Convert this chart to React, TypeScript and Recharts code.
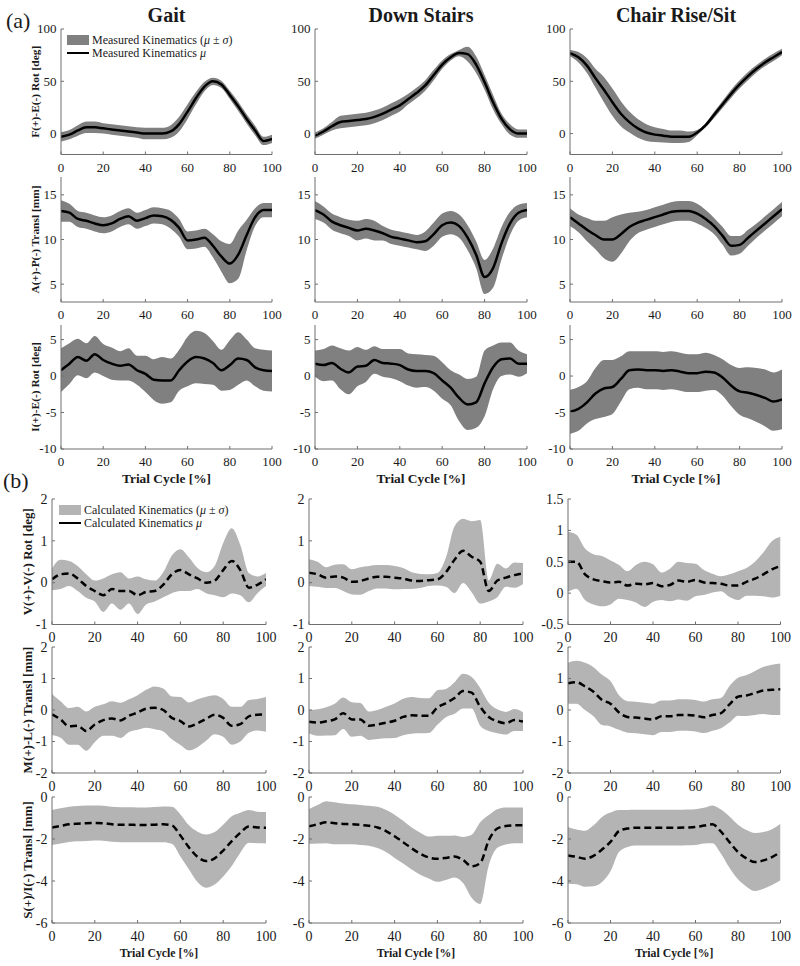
import React from 'react';
import { ComposedChart, Area, Line, XAxis, YAxis, Legend } from 'recharts';

const FONT = '"Liberation Serif", "Times New Roman", serif';
const AXIS = '#6f6f6f';
const INK = '#1a1a1a';
const MEASURED = '#808080';
const CALCULATED = '#b4b4b4';

// trial cycle sample points [%]
const cycle = [0, 4, 8, 12, 16, 20, 24, 28, 32, 36, 40, 44, 48, 52, 56, 60, 64, 68, 72, 76, 80, 84, 88, 92, 96, 100];
const xTicks = [0, 20, 40, 60, 80, 100];
const activities = ['Gait', 'Down Stairs', 'Chair Rise/Sit'];

// (a) measured kinematics, mean and sd
const gaitFeMean = [-3, -1, 3, 6, 6, 5, 4, 3, 2, 1, 0, 0, 0, 2, 9, 21, 34, 45, 50, 47, 37, 26, 14, 3, -7, -5];
const gaitFeSd = [4.5, 4.5, 5, 5.5, 5.5, 5, 5, 5, 5, 5, 5.5, 5.5, 5.5, 6, 7, 7, 6, 4.5, 3.5, 3.5, 4, 4.5, 4.5, 4.5, 4, 4];
const stairsFeMean = [-2, 2, 7, 11, 12, 13, 14, 16, 19, 23, 27, 33, 39, 46, 56, 66, 73, 77, 76, 66, 49, 30, 14, 4, 0, 0];
const stairsFeSd = [3, 3, 4, 6, 6, 6, 6, 6, 6, 6, 6, 5, 5, 5, 5, 4, 3, 3, 7, 8, 7, 7, 5, 5, 4, 4];
const chairFeMean = [77, 73, 65, 53, 42, 30, 19, 11, 5, 1, -1, -2, -3, -3, -3, 1, 8, 18, 28, 38, 47, 55, 62, 68, 73, 78];
const chairFeSd = [3, 5, 7, 9, 12, 13, 12, 10, 9, 8, 7, 6.5, 6, 6, 5, 2.5, 2, 3, 3.5, 4, 4, 4, 3.5, 3.5, 3.5, 3];

const gaitApMean = [13.2, 13.0, 12.3, 12.1, 11.8, 11.6, 11.8, 12.3, 12.6, 12.1, 12.4, 12.7, 12.6, 12.2, 11.3, 9.9, 10.0, 10.2, 9.3, 8.1, 7.3, 8.3, 10.5, 12.5, 13.3, 13.3];
const gaitApSd = [1.2, 1.0, 0.9, 0.9, 0.9, 0.9, 0.9, 0.9, 0.9, 0.9, 0.9, 0.9, 0.9, 1.0, 1.0, 1.0, 1.0, 1.0, 1.3, 1.7, 2.2, 2.7, 1.7, 1.0, 0.8, 0.8];
const stairsApMean = [13.3, 12.8, 12.0, 11.6, 11.3, 11.0, 11.2, 11.0, 10.7, 10.3, 10.1, 9.9, 9.7, 9.8, 10.6, 11.6, 11.9, 11.5, 10.2, 8.3, 5.8, 6.8, 9.6, 11.8, 13.0, 13.3];
const stairsApSd = [1.0, 0.9, 0.9, 0.9, 0.9, 1.1, 1.1, 1.1, 0.8, 0.8, 0.8, 0.8, 0.8, 1.1, 1.3, 1.3, 1.3, 1.3, 1.4, 1.5, 1.9, 2.2, 1.8, 1.3, 0.9, 0.8];
const chairApMean = [12.5, 11.8, 11.1, 10.5, 10.0, 10.0, 10.6, 11.4, 11.9, 12.2, 12.5, 12.8, 13.1, 13.2, 13.2, 12.9, 12.3, 11.5, 10.4, 9.3, 9.4, 10.2, 11.0, 11.8, 12.6, 13.4];
const chairApSd = [1.0, 1.0, 1.3, 1.6, 2.1, 2.5, 2.2, 1.6, 1.2, 1.1, 1.1, 1.1, 1.1, 1.1, 1.1, 1.1, 1.0, 0.9, 1.0, 1.1, 1.0, 0.9, 0.8, 0.8, 0.8, 0.8];

const gaitIeMean = [0.8, 1.7, 2.6, 2.1, 3.0, 2.2, 1.7, 1.4, 1.6, 0.8, 0.3, -0.5, -0.6, -0.6, 0.8, 2.0, 2.6, 2.4, 1.8, 0.8, 1.5, 2.4, 2.2, 1.2, 0.8, 0.7];
const gaitIeSd = [3.0, 2.8, 2.5, 2.4, 2.5, 2.2, 2.2, 2.0, 2.2, 2.0, 2.5, 2.8, 3.2, 3.0, 2.8, 3.4, 3.6, 3.5, 3.0, 2.8, 3.4, 3.6, 2.8, 2.6, 2.8, 2.8];
const stairsIeMean = [1.7, 1.5, 1.8, 1.0, 0.5, 1.3, 1.4, 2.2, 1.8, 1.7, 1.5, 0.9, 0.7, 0.7, 0.4, -0.6, -1.6, -3.0, -3.9, -3.6, -1.0, 1.2, 2.3, 2.4, 1.7, 1.7];
const stairsIeSd = [1.8, 2.2, 2.4, 2.8, 3.0, 2.7, 2.2, 1.9, 1.9, 2.0, 2.2, 2.2, 2.3, 2.2, 2.4, 2.5, 2.4, 3.2, 3.5, 3.5, 4.5, 3.0, 2.3, 2.2, 1.8, 1.3];
const chairIeMean = [-4.9, -4.5, -3.6, -2.4, -1.7, -1.5, -0.4, 0.8, 0.9, 0.8, 0.8, 0.7, 0.8, 0.6, 0.4, 0.4, 0.6, 0.5, -0.2, -1.3, -2.1, -2.3, -2.6, -3.0, -3.5, -3.2];
const chairIeSd = [3.0, 3.0, 2.9, 3.5, 3.9, 3.7, 3.1, 2.6, 2.5, 2.6, 2.6, 2.6, 2.6, 2.6, 2.6, 2.6, 2.6, 2.4, 2.5, 2.8, 3.2, 3.5, 3.7, 3.9, 4.0, 4.1];

// (b) calculated kinematics, mean and sd
const gaitVvMean = [0.08, 0.2, 0.22, 0.1, -0.08, -0.2, -0.3, -0.15, -0.2, -0.2, -0.3, -0.22, -0.2, -0.05, 0.2, 0.3, 0.2, 0.1, 0.0, 0.05, 0.3, 0.52, 0.3, -0.12, -0.05, 0.08];
const gaitVvSd = [0.26, 0.35, 0.3, 0.3, 0.28, 0.25, 0.4, 0.35, 0.45, 0.3, 0.45, 0.3, 0.25, 0.3, 0.45, 0.5, 0.4, 0.25, 0.25, 0.35, 0.65, 0.78, 0.6, 0.35, 0.2, 0.16];
const stairsVvMean = [0.24, 0.2, 0.12, 0.15, 0.12, 0.02, 0.04, 0.1, 0.14, 0.14, 0.12, 0.1, 0.05, 0.04, 0.06, 0.08, 0.25, 0.55, 0.76, 0.62, 0.5, -0.2, 0.05, 0.12, 0.18, 0.22];
const stairsVvSd = [0.32, 0.3, 0.25, 0.28, 0.32, 0.3, 0.33, 0.3, 0.28, 0.28, 0.28, 0.25, 0.2, 0.17, 0.14, 0.15, 0.35, 0.8, 0.77, 0.85, 1.0, 0.25, 0.4, 0.22, 0.3, 0.25];
const chairVvMean = [0.5, 0.5, 0.3, 0.22, 0.19, 0.17, 0.18, 0.12, 0.15, 0.14, 0.16, 0.11, 0.13, 0.2, 0.18, 0.21, 0.17, 0.16, 0.15, 0.12, 0.12, 0.18, 0.23, 0.3, 0.38, 0.43];
const chairVvSd = [0.48, 0.43, 0.41, 0.4, 0.4, 0.35, 0.27, 0.23, 0.3, 0.36, 0.3, 0.22, 0.26, 0.3, 0.3, 0.26, 0.2, 0.15, 0.12, 0.18, 0.23, 0.22, 0.27, 0.35, 0.45, 0.47];

const gaitMlMean = [-0.14, -0.3, -0.52, -0.5, -0.67, -0.46, -0.32, -0.27, -0.33, -0.18, -0.08, 0.04, 0.07, 0.0, -0.25, -0.35, -0.52, -0.42, -0.28, -0.15, -0.25, -0.5, -0.45, -0.2, -0.15, -0.14];
const gaitMlSd = [0.65, 0.58, 0.58, 0.6, 0.62, 0.56, 0.5, 0.55, 0.56, 0.52, 0.55, 0.6, 0.68, 0.68, 0.68, 0.76, 0.76, 0.76, 0.7, 0.62, 0.6, 0.6, 0.55, 0.52, 0.5, 0.55];
const stairsMlMean = [-0.37, -0.4, -0.36, -0.3, -0.1, -0.3, -0.3, -0.5, -0.46, -0.4, -0.34, -0.22, -0.17, -0.18, -0.18, 0.08, 0.22, 0.38, 0.6, 0.55, 0.1, -0.22, -0.36, -0.42, -0.32, -0.37];
const stairsMlSd = [0.37, 0.42, 0.45, 0.5, 0.5, 0.55, 0.52, 0.45, 0.46, 0.5, 0.55, 0.58, 0.58, 0.56, 0.55, 0.55, 0.45, 0.5, 0.55, 0.5, 0.6, 0.45, 0.38, 0.36, 0.35, 0.3];
const chairMlMean = [0.85, 0.88, 0.75, 0.58, 0.32, 0.2, -0.08, -0.22, -0.24, -0.27, -0.3, -0.2, -0.2, -0.16, -0.16, -0.18, -0.23, -0.16, -0.1, 0.18, 0.42, 0.46, 0.54, 0.62, 0.64, 0.66];
const chairMlSd = [0.65, 0.68, 0.75, 0.78, 0.8, 0.72, 0.55, 0.5, 0.5, 0.5, 0.5, 0.5, 0.5, 0.5, 0.5, 0.5, 0.5, 0.5, 0.48, 0.58, 0.6, 0.65, 0.7, 0.75, 0.8, 0.82];

const gaitSiMean = [-1.45, -1.38, -1.3, -1.27, -1.25, -1.24, -1.25, -1.3, -1.32, -1.32, -1.33, -1.33, -1.32, -1.3, -1.35, -1.83, -2.4, -2.85, -3.05, -2.92, -2.55, -2.1, -1.7, -1.4, -1.45, -1.46];
const gaitSiSd = [0.83, 0.84, 0.84, 0.84, 0.84, 0.83, 0.83, 0.83, 0.83, 0.83, 0.83, 0.83, 0.84, 0.85, 0.88, 1.0, 1.05, 1.2, 1.27, 1.25, 1.23, 1.18, 0.95, 0.78, 0.75, 0.75];
const stairsSiMean = [-1.4, -1.3, -1.2, -1.25, -1.28, -1.3, -1.33, -1.37, -1.45, -1.62, -1.87, -2.15, -2.45, -2.7, -2.88, -2.94, -2.9, -2.83, -3.0, -3.3, -3.15, -2.06, -1.5, -1.38, -1.35, -1.35];
const stairsSiSd = [0.83, 0.92, 1.0, 1.0, 0.97, 0.95, 0.95, 0.95, 0.98, 1.0, 1.03, 1.02, 1.0, 1.0, 1.0, 1.1, 1.05, 1.0, 1.1, 1.5, 1.95, 1.2, 0.92, 0.88, 0.85, 0.85];
const chairSiMean = [-2.78, -2.85, -2.94, -2.8, -2.5, -2.14, -1.62, -1.5, -1.46, -1.46, -1.46, -1.46, -1.46, -1.46, -1.45, -1.43, -1.36, -1.3, -1.65, -2.15, -2.62, -2.92, -3.1, -3.02, -2.86, -2.62];
const chairSiSd = [1.35, 1.3, 1.33, 1.45, 1.55, 1.4, 1.0, 0.88, 0.85, 0.85, 0.85, 0.85, 0.85, 0.85, 0.85, 0.85, 0.85, 0.9, 1.05, 1.22, 1.3, 1.35, 1.38, 1.35, 1.33, 1.35];

const buildRows = (mean: number[], sd: number[]) =>
  cycle.map((x, i) => ({ x, mean: mean[i], band: [mean[i] - sd[i], mean[i] + sd[i]] }));

// layout of the two panel groups (page pixels)
const groups = [
  {
    tag: '(a)', tagX: 6, tagY: 28, label: 'Measured Kinematics', band: MEASURED, dashed: false,
    tickFont: 13, yFont: 11.4, xFont: 13.4, yTitleX: 35, legendAt: [67, 33.5],
    lefts: [61, 315, 570], widths: [211, 212, 212],
    rows: [
      { top: 29, h: 125.5, title: 'F(+)-E(-) Rot [deg]', domain: [-20, 100], ticks: [0, 50, 100],
        series: [{ mean: gaitFeMean, sd: gaitFeSd }, { mean: stairsFeMean, sd: stairsFeSd }, { mean: chairFeMean, sd: chairFeSd }] },
      { top: 177, h: 125, title: 'A(+)-P(-) Transl [mm]', domain: [3, 17], ticks: [5, 10, 15],
        series: [{ mean: gaitApMean, sd: gaitApSd }, { mean: stairsApMean, sd: stairsApSd }, { mean: chairApMean, sd: chairApSd }] },
      { top: 325, h: 124, title: 'I(+)-E(-) Rot [deg]', domain: [-10, 7], ticks: [-10, -5, 0, 5],
        series: [{ mean: gaitIeMean, sd: gaitIeSd }, { mean: stairsIeMean, sd: stairsIeSd }, { mean: chairIeMean, sd: chairIeSd }] },
    ],
  },
  {
    tag: '(b)', tagX: 3, tagY: 487.5, label: 'Calculated Kinematics', band: CALCULATED, dashed: true,
    tickFont: 14, yFont: 13, xFont: 11.8, yTitleX: 27, legendAt: [59, 503.5],
    lefts: [52, 309, 567.5], widths: [214, 214, 212.5],
    rows: [
      { top: 499, h: 125.5, title: 'V(+)-V(-) Rot [deg]', domain: [-1, 2], ticks: [-1, 0, 1, 2],
        series: [{ mean: gaitVvMean, sd: gaitVvSd }, { mean: stairsVvMean, sd: stairsVvSd },
          { mean: chairVvMean, sd: chairVvSd, domain: [-0.5, 1.5], ticks: [-0.5, 0, 0.5, 1, 1.5] }] },
      { top: 647, h: 126, title: 'M(+)-L(-) Transl [mm]', domain: [-2, 2], ticks: [-2, -1, 0, 1, 2],
        series: [{ mean: gaitMlMean, sd: gaitMlSd }, { mean: stairsMlMean, sd: stairsMlSd }, { mean: chairMlMean, sd: chairMlSd }] },
      { top: 797, h: 126, title: 'S(+)/I(-) Transl [mm]', domain: [-6, 0], ticks: [-6, -4, -2, 0],
        series: [{ mean: gaitSiMean, sd: gaitSiSd }, { mean: stairsSiMean, sd: stairsSiSd }, { mean: chairSiMean, sd: chairSiSd }] },
    ],
  },
];

const ML = 50; // y axis width
const MT = 12;
const MR = 14;
const XH = 40; // x axis height

const KinLegend = ({ label, band }: any) => (
  <div style={{ fontFamily: FONT, fontSize: 12, lineHeight: '13px', color: INK, whiteSpace: 'nowrap' }}>
    <div style={{ display: 'flex', alignItems: 'center', height: 13 }}>
      <span style={{ display: 'inline-block', width: 22, height: 10, background: band, marginRight: 3 }} />
      <span>{label} (<i>μ</i> ± <i>σ</i>)</span>
    </div>
    <div style={{ display: 'flex', alignItems: 'center', height: 13 }}>
      <span style={{ display: 'inline-block', width: 22, height: 0, borderTop: '2.5px solid #000', marginRight: 3 }} />
      <span>{label} <i>μ</i></span>
    </div>
  </div>
);

// serif tick labels; bottom axis hangs below, left axis is centred on the tick
const serifTick = (size: number, side: 'bottom' | 'left') => (props: any) => (
  <text x={props.x} y={props.y} textAnchor={side === 'bottom' ? 'middle' : 'end'}
    dy={side === 'bottom' ? '0.71em' : '0.34em'} fontFamily={FONT} fontSize={size} fill={INK}>
    {props.payload.value}
  </text>
);

const yTitle = (text: string, cx: number, size: number) => (props: any) => {
  const vb = props.viewBox;
  const cy = vb.y + vb.height / 2;
  return (
    <text x={cx} y={cy} transform={`rotate(-90, ${cx}, ${cy})`} textAnchor="middle" dominantBaseline="central"
      fontFamily={FONT} fontWeight="bold" fontSize={size} fill={INK}>
      {text}
    </text>
  );
};

function Panel({ group, row, col, last, first }: any) {
  const s = row.series[col];
  const domain = s.domain || row.domain;
  const ticks = s.ticks || row.ticks;
  const left = group.lefts[col];
  const w = group.widths[col];
  const chartLeft = left - ML;
  const chartTop = row.top - MT;
  const data = buildRows(s.mean, s.sd);

  return (
    <div style={{ position: 'absolute', left: chartLeft, top: chartTop }}>
      <ComposedChart width={ML + w + MR} height={MT + row.h + XH} data={data}
        margin={{ top: MT, right: MR, bottom: 0, left: 0 }}>
        <Area dataKey="band" type="monotone" stroke="none" fill={group.band} fillOpacity={1} isAnimationActive={false} />
        <Line dataKey="mean" type="monotone" stroke="#000" strokeWidth={2.5}
          strokeDasharray={group.dashed ? '7 4' : undefined} dot={false} isAnimationActive={false} />
        <XAxis dataKey="x" type="number" domain={[0, 100]} ticks={xTicks} interval={0} allowDataOverflow
          height={XH} stroke={AXIS} tickSize={-3} tickMargin={11} tick={serifTick(group.tickFont, 'bottom')}
          label={last ? { value: 'Trial Cycle [%]', position: 'insideBottom', offset: 6, fill: INK,
            fontSize: group.xFont, fontWeight: 'bold', fontFamily: FONT } : undefined} />
        <XAxis xAxisId="top" dataKey="x" orientation="top" type="number" domain={[0, 100]} ticks={xTicks}
          interval={0} allowDataOverflow height={0} stroke={AXIS} tickSize={-3} tick={false} />
        <YAxis type="number" domain={domain} ticks={ticks} interval={0} allowDataOverflow width={ML}
          stroke={AXIS} tickSize={-3} tickMargin={7.5} tick={serifTick(group.tickFont, 'left')}
          label={col === 0 ? yTitle(row.title, group.yTitleX - chartLeft, group.yFont) : undefined} />
        <YAxis yAxisId="right" orientation="right" type="number" domain={domain} ticks={ticks} interval={0}
          allowDataOverflow width={0} stroke={AXIS} tickSize={-3} tick={false} />
        {first && col === 0 && (
          <Legend layout="horizontal" verticalAlign="middle" align="center"
            wrapperStyle={{ left: group.legendAt[0] - chartLeft, top: group.legendAt[1] - chartTop, width: 'auto' }}
            content={() => <KinLegend label={group.label} band={group.band} />} />
        )}
      </ComposedChart>
    </div>
  );
}

export default function App() {
  const a = groups[0];
  return (
    <div style={{ position: 'absolute', left: 0, top: 0, width: 800, height: 966, background: '#fff' }}>
      {groups.map((g, gi) =>
        g.rows.map((row, ri) =>
          [0, 1, 2].map((col) => (
            <Panel key={`${gi}-${ri}-${col}`} group={g} row={row} col={col}
              first={ri === 0} last={ri === g.rows.length - 1} />
          ))
        )
      )}
      <svg width={800} height={966} style={{ position: 'absolute', left: 0, top: 0, pointerEvents: 'none' }}>
        {groups.map((g) => (
          <text key={g.tag} x={g.tagX} y={g.tagY} fontFamily={FONT} fontSize={22} fill={INK}>{g.tag}</text>
        ))}
        {activities.map((t, i) => (
          <text key={t} x={a.lefts[i] + a.widths[i] / 2} y={21.5} textAnchor="middle"
            fontFamily={FONT} fontWeight="bold" fontSize={20} fill={INK}>{t}</text>
        ))}
      </svg>
    </div>
  );
}
